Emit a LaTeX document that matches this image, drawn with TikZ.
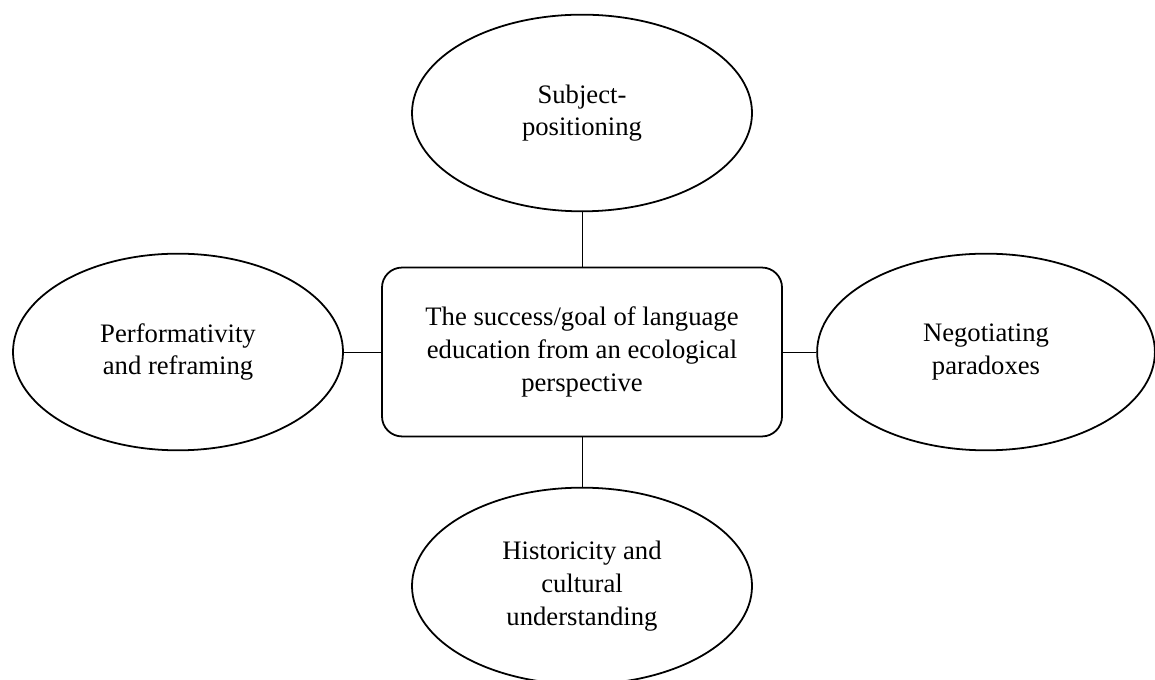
\documentclass[tikz,border=0pt]{standalone}
\usepackage{fontspec}
\setmainfont{Liberation Serif}
\usetikzlibrary{shapes.geometric}

\begin{document}
\begin{tikzpicture}[
  x=0.45pt, y=-0.45pt,
  theme/.style={draw, ellipse, line width=0.8pt, align=center,
                minimum width=153pt, minimum height=88.5pt, inner sep=0pt,
                font=\fontsize{12}{14.7}\selectfont},
  core/.style={draw, rounded corners=9pt, line width=0.8pt, align=center,
               minimum width=180pt, minimum height=76pt, inner sep=0pt,
               font=\fontsize{12}{14.7}\selectfont},
  link/.style={line width=0.4pt}
]
  \useasboundingbox (0,0) rectangle (1155,680);

  \node[core]  (goal) at (582, 352) {The success/goal of language\\education from an ecological\\perspective};
  \node[theme] (subj) at (582, 113) {Subject-\\positioning};
  \node[theme, minimum width=148.5pt] (perf) at (178, 352) {Performativity\\and reframing};
  \node[theme, minimum width=152pt]   (nego) at (986, 352) {Negotiating\\paradoxes};
  \node[theme] (hist) at (582, 586) {Historicity and\\cultural\\understanding};

  \draw[link] (subj.south) -- (goal.north);
  \draw[link] (goal.south) -- (hist.north);
  \draw[link] (perf) -- (goal);
  \draw[link] (goal) -- (nego);
\end{tikzpicture}
\end{document}
